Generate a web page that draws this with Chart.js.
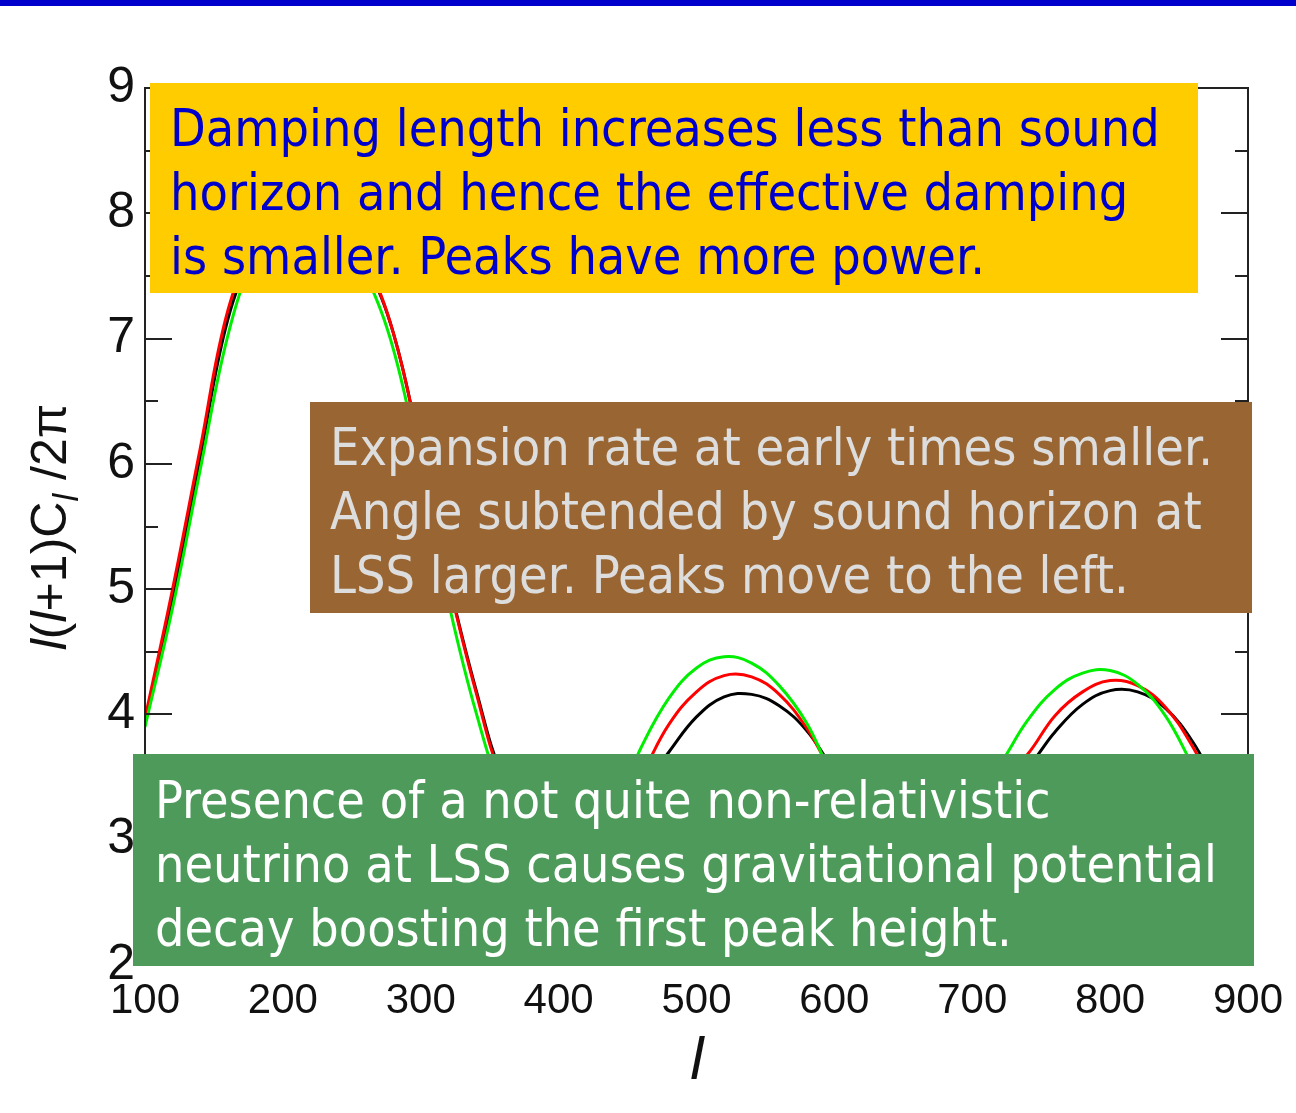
<!DOCTYPE html>
<html lang="en">
<head>
<meta charset="UTF-8">
<title>CMB power spectrum - neutrino effects</title>
<script src="https://cdn.jsdelivr.net/npm/chart.js"></script>
<style>
  html, body { margin: 0; padding: 0; background: #fff; }
  body { width: 1296px; height: 1113px; position: relative; overflow: hidden; }
  #topbar { position: absolute; left: 0; top: 0; width: 1296px; height: 6px; background: #0000cc; }
  #wrap { position: absolute; left: 0; top: 0; width: 1296px; height: 1113px; }
  .note {
    position: absolute; box-sizing: border-box; white-space: nowrap;
    font-family: 'DejaVu Sans Condensed', 'DejaVu Sans', Tahoma, sans-serif;
    font-stretch: semi-condensed;
  }
  .note div { height: 64px; line-height: 64px; }
</style>
</head>
<body>
<div id="wrap"><canvas id="cmbChart" width="1296" height="1113"></canvas></div>
<div id="topbar"></div>

<div class="note" id="noteDamping" style="left:150px;top:83px;width:1048px;height:210px;background:#ffcc00;color:#0000cc;padding:13px 0 0 20px;">
  <div><span>Damping length increases less than sound</span></div>
  <div><span>horizon and hence the effective damping</span></div>
  <div><span>is smaller. Peaks have more power.</span></div>
</div>
<div class="note" id="noteExpansion" style="left:310px;top:402px;width:942px;height:211px;background:#996633;color:#dddddd;padding:13px 0 0 20px;">
  <div><span>Expansion rate at early times smaller.</span></div>
  <div><span>Angle subtended by sound horizon at</span></div>
  <div><span>LSS larger. Peaks move to the left.</span></div>
</div>
<div class="note" id="noteNeutrino" style="left:133px;top:754px;width:1121px;height:212px;background:#4d9a5a;color:#ffffff;padding:14px 0 0 22px;">
  <div><span>Presence of a not quite non-relativistic</span></div>
  <div><span>neutrino at LSS causes gravitational potential</span></div>
  <div><span>decay boosting the first peak height.</span></div>
</div>

<script>
// multipole l
const ell = [100, 120, 140, 160, 180, 200, 220, 240, 260, 280, 300, 320, 340, 360, 380, 400,
             420, 440, 460, 480, 500, 520, 540, 560, 580, 600, 620, 640, 660, 680, 700, 720,
             740, 760, 780, 800, 820, 840, 860, 880, 900];

// l(l+1)C_l/2pi for the three models
const blackVals = [3.93, 4.92, 6.05, 7.15, 7.70, 7.98, 8.05, 7.93, 7.60, 7.05, 6.10, 5.08, 4.20, 3.48, 3.12, 2.98,
                   3.00, 3.15, 3.40, 3.70, 3.98, 4.14, 4.16, 4.07, 3.87, 3.56, 3.35, 3.22, 3.17, 3.20, 3.30, 3.43,
                   3.58, 3.86, 4.08, 4.19, 4.18, 4.05, 3.78, 3.39, 3.10];
const redVals = [3.97, 5.00, 6.12, 7.22, 7.75, 8.02, 8.08, 7.95, 7.62, 7.05, 6.10, 5.07, 4.18, 3.45, 3.10, 2.97,
                 3.00, 3.20, 3.52, 3.92, 4.18, 4.31, 4.30, 4.16, 3.89, 3.52, 3.30, 3.18, 3.14, 3.18, 3.30, 3.47,
                 3.68, 3.99, 4.18, 4.27, 4.23, 4.06, 3.74, 3.32, 3.05];
const greenVals = [3.90, 4.85, 5.95, 7.02, 7.68, 8.05, 8.15, 7.95, 7.52, 6.92, 5.95, 4.90, 4.02, 3.36, 3.03, 2.92,
                   2.98, 3.24, 3.74, 4.13, 4.37, 4.46, 4.41, 4.23, 3.93, 3.49, 3.25, 3.12, 3.08, 3.15, 3.32, 3.60,
                   3.95, 4.20, 4.33, 4.35, 4.24, 3.99, 3.59, 3.20, 2.95];

const xTicks = [100, 200, 300, 400, 500, 600, 700, 800, 900];
const yTicks = [2, 3, 4, 5, 6, 7, 8, 9];

const toPoints = vals => ell.map((l, i) => ({ x: l, y: vals[i] }));

// box with inward major/minor ticks on all four sides, like the IDL plot
const axisFrame = {
  id: 'axisFrame',
  afterDatasetsDraw(chart) {
    const { ctx, chartArea: a, scales: { x, y } } = chart;
    ctx.save();
    ctx.strokeStyle = '#222';
    ctx.lineWidth = 2;
    ctx.strokeRect(a.left, a.top, a.right - a.left, a.bottom - a.top);
    ctx.beginPath();
    yTicks.forEach((v, i) => {
      const marks = [[v, 27]];
      if (i < yTicks.length - 1) marks.push([v + 0.5, 13]);
      marks.forEach(([val, len]) => {
        const py = Math.round(y.getPixelForValue(val));
        ctx.moveTo(a.left, py); ctx.lineTo(a.left + len, py);
        ctx.moveTo(a.right, py); ctx.lineTo(a.right - len, py);
      });
    });
    xTicks.forEach((v, i) => {
      const marks = [[v, 27]];
      if (i < xTicks.length - 1) marks.push([v + 50, 13]);
      marks.forEach(([val, len]) => {
        const px = Math.round(x.getPixelForValue(val));
        ctx.moveTo(px, a.bottom); ctx.lineTo(px, a.bottom - len);
        ctx.moveTo(px, a.top); ctx.lineTo(px, a.top + len);
      });
    });
    ctx.stroke();
    ctx.restore();
  },
  afterDraw(chart) {
    const { ctx } = chart;
    const f = 50;
    const plain = f + "px 'Liberation Sans', Arial, sans-serif";
    const ital = 'italic ' + plain;
    const subf = 'italic ' + Math.round(f * 0.7) + "px 'Liberation Sans', Arial, sans-serif";
    // y title: l(l+1)C_l /2pi, rotated
    const parts = [
      { t: 'l', font: ital }, { t: '(', font: plain }, { t: 'l', font: ital },
      { t: '+1)C', font: plain }, { t: 'l', font: subf, dy: 12 }, { t: ' /2\u03c0', font: plain }
    ];
    ctx.save();
    ctx.fillStyle = '#111';
    ctx.textBaseline = 'alphabetic';
    let total = 0;
    parts.forEach(p => { ctx.font = p.font; p.w = ctx.measureText(p.t).width; total += p.w; });
    ctx.translate(66, 527);
    ctx.rotate(-Math.PI / 2);
    let cx = -total / 2;
    parts.forEach(p => { ctx.font = p.font; ctx.fillText(p.t, cx, p.dy || 0); cx += p.w; });
    ctx.restore();

    // x title
    ctx.save();
    ctx.fillStyle = '#111';
    ctx.font = "italic 60px 'Liberation Sans', Arial, sans-serif";
    ctx.textAlign = 'center';
    ctx.textBaseline = 'middle';
    ctx.fillText('l', 697, 1062);
    ctx.restore();
  }
};

const ctx = document.getElementById('cmbChart').getContext('2d');

new Chart(ctx, {
  type: 'line',
  data: {
    datasets: [
      { label: 'green', data: toPoints(greenVals), borderColor: '#00ee00' },
      { label: 'red', data: toPoints(redVals), borderColor: '#ff0000' },
      { label: 'black', data: toPoints(blackVals), borderColor: '#000000' }
    ]
  },
  options: {
    responsive: false,
    animation: false,
    events: [],
    elements: {
      line: { borderWidth: 3, tension: 0.4, fill: false },
      point: { radius: 0 }
    },
    layout: { padding: { left: 0, right: 48, top: 88, bottom: 0 } },
    plugins: { legend: { display: false }, tooltip: { enabled: false } },
    scales: {
      x: {
        type: 'linear',
        min: 100, max: 900,
        afterFit: s => { s.height = 148; },
        afterBuildTicks: s => { s.ticks = xTicks.map(v => ({ value: v })); },
        grid: { display: false, drawTicks: false },
        border: { display: false },
        ticks: {
          color: '#111',
          padding: 11,
          maxRotation: 0,
          font: { family: "'Liberation Sans Narrow', 'Liberation Sans', Arial, sans-serif", size: 42 }
        }
      },
      y: {
        min: 2, max: 9,
        afterFit: s => { s.width = 145; },
        afterBuildTicks: s => { s.ticks = yTicks.map(v => ({ value: v })); },
        grid: { display: false, drawTicks: false },
        border: { display: false },
        ticks: {
          color: '#111',
          padding: 10,
          font: { family: "'Liberation Sans', Arial, sans-serif", size: 50 }
        }
      }
    }
  },
  plugins: [axisFrame]
});

// size the note text so the widest line spans the same width as in the slide
function fitNote(id, targetWidth) {
  const el = document.getElementById(id);
  el.style.fontSize = '50px';
  const w = Math.max(...Array.from(el.querySelectorAll('span')).map(s => s.getBoundingClientRect().width));
  el.style.fontSize = (50 * targetWidth / w).toFixed(2) + 'px';
}
fitNote('noteDamping', 990);
fitNote('noteExpansion', 883);
fitNote('noteNeutrino', 1062);
</script>
</body>
</html>
